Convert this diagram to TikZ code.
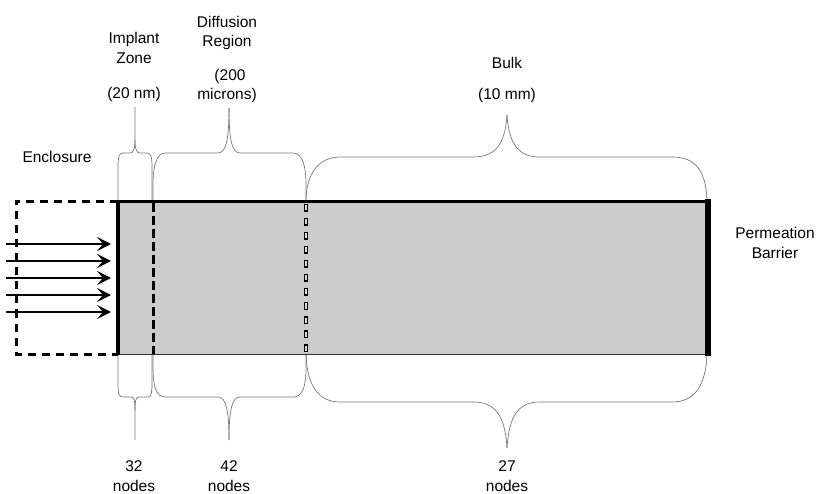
\documentclass[tikz,border=0pt]{standalone}
\usepackage{fontspec}
\setmainfont{Liberation Sans}
\usetikzlibrary{arrows.meta}
\definecolor{barfill}{RGB}{204,204,204}
\definecolor{bracegray}{RGB}{120,120,120}
\begin{document}
\begin{tikzpicture}[x=1pt,y=-1pt,
  lbl/.style={anchor=base, inner sep=0pt, font=\fontsize{15.5}{20}\selectfont},
  brace/.style={draw=bracegray, line width=0.7pt},
  flux/.style={line width=1.8pt, -{Stealth[length=14pt,width=14pt,inset=6pt]}},
  encl/.style={line width=3pt, dash pattern=on 8pt off 6pt},
  zoneline/.style={line width=3pt, dash pattern=on 9pt off 4pt}]
\useasboundingbox (0,0) rectangle (819,494);

% ---- braces (top) ----
\draw[brace] (118,201) -- (118,167) .. controls (118,157) and (119,153) .. (123,153) -- (130,153)
  .. controls (133,153) and (135,150) .. (135,140) -- (135,107);
\draw[brace] (135,140) .. controls (135,150) and (137,153) .. (140,153) -- (147,153)
  .. controls (151,153) and (152,157) .. (152,167) -- (152,201);

\draw[brace] (153,201) -- (153,185) .. controls (153,165) and (157,153) .. (165,153) -- (218,153)
  .. controls (226,153) and (229,140) .. (229,108);
\draw[brace] (229,108) .. controls (229,140) and (232,153) .. (240,153) -- (293,153)
  .. controls (302,153) and (306,165) .. (306,185) -- (306,201);

\draw[brace] (306,201) .. controls (306,175) and (318,157) .. (340,157) -- (473,157)
  .. controls (495,157) and (505,145) .. (507,115);
\draw[brace] (507,115) .. controls (509,145) and (519,157) .. (540,157) -- (672,157)
  .. controls (695,157) and (706,170) .. (707,201);

% ---- braces (bottom) ----
\draw[brace] (118,354) -- (118,384) .. controls (118,394) and (119,397) .. (123,397) -- (131,397)
  .. controls (134,397) and (135,400) .. (135,410) -- (135,440);
\draw[brace] (135,410) .. controls (135,400) and (136,397) .. (139,397) -- (148,397)
  .. controls (151,397) and (152,393) .. (152,384) -- (152,354);

\draw[brace] (153,354) -- (153,368) .. controls (153,388) and (157,397) .. (165,397) -- (218,397)
  .. controls (226,397) and (229,410) .. (229,440);
\draw[brace] (229,440) .. controls (229,410) and (232,397) .. (240,397) -- (293,397)
  .. controls (302,397) and (306,388) .. (306,368) -- (306,354);

\draw[brace] (306,354) .. controls (307,385) and (318,402) .. (340,402) -- (473,402)
  .. controls (495,402) and (505,415) .. (507,448);
\draw[brace] (507,448) .. controls (509,415) and (519,402) .. (540,402) -- (672,402)
  .. controls (695,402) and (706,385) .. (707,354);

% ---- body ----
\fill[barfill] (118,201) rectangle (708,354);
\draw[line width=1.6pt, black!80] (118,354.5) -- (708,354.5);
\draw[line width=3.2pt] (118,355) -- (118,201.5) -- (708,201.5);
\draw[line width=6pt] (708,199.5) -- (708,356);

% ---- enclosure ----
\draw[encl] (118,201.5) -- (16,201.5) -- (16,354) -- (118,354);

% ---- zone boundaries ----
\draw[zoneline] (153,203) -- (153,354);
\draw[line width=3.4pt, dash pattern=on 8pt off 6pt] (306,204) -- (306,354);
\draw[line width=1.2pt, barfill!70, dash pattern=on 5pt off 9pt, dash phase=-1.5pt] (306,204) -- (306,354);

% ---- flux arrows ----
\foreach \i/\yy in {1/244,2/261,3/278,4/295,5/312}{
  \coordinate (fs\i) at (6,\yy);
  \coordinate (fe\i) at (111,\yy);
  \draw[flux] (fs\i) -- (fe\i);
}

% ---- labels ----
\node[lbl] (encl) at (57,163) {Enclosure};
\node[lbl] (impA) at (134,44) {Implant};
\node[lbl] (impB) at (134,64) {Zone};
\node[lbl] (impC) at (134,99) {(20 nm)};
\node[lbl] (difA) at (227,28) {Diffusion};
\node[lbl] (difB) at (227,47) {Region};
\node[lbl] (difC) at (230,81) {(200};
\node[lbl] (difD) at (227,100) {microns)};
\node[lbl] (bulkA) at (507,69) {Bulk};
\node[lbl] (bulkB) at (507,100) {(10 mm)};
\node[lbl] (permA) at (775,239) {Permeation};
\node[lbl] (permB) at (775,259) {Barrier};
\node[lbl] (n32a) at (134,471) {32};
\node[lbl] (n32b) at (134,491) {nodes};
\node[lbl] (n42a) at (229,471) {42};
\node[lbl] (n42b) at (229,491) {nodes};
\node[lbl] (n27a) at (507,471) {27};
\node[lbl] (n27b) at (507,491) {nodes};
\end{tikzpicture}
\end{document}
